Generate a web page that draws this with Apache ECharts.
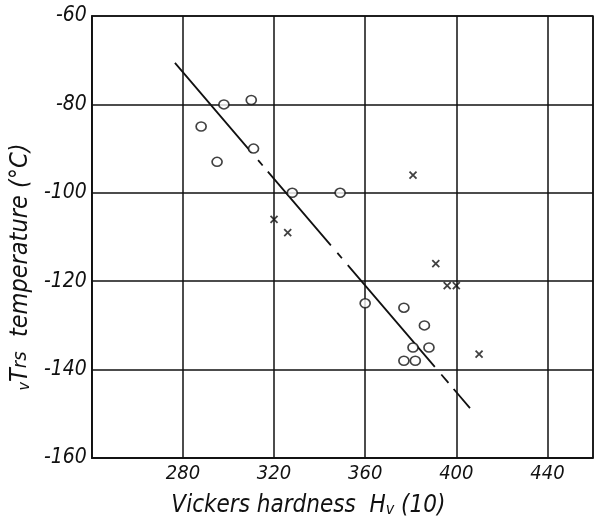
<!DOCTYPE html>
<html lang="en">
<head>
    <meta charset="UTF-8">
    <title>vTrs vs Vickers hardness</title>
    <style>
        html, body {
            margin: 0;
            padding: 0;
            background: #fff;
        }

        #chart1 {
            width: 599px;
            height: 523px;
        }
    </style>
</head>
<body>
<div id="chart1"></div>
<script src="https://cdn.jsdelivr.net/npm/echarts@6/dist/echarts.min.js"></script>
<script type="text/javascript">
    // 数据点 (Hv, vTrs)
    var circlePoints = [
        [288, -85], [295, -93], [298, -80], [310, -79], [311, -90],
        [328, -100], [349, -100], [360, -125], [377, -126], [386, -130],
        [381, -135], [388, -135], [377, -138], [382, -138]
    ];
    var crossPoints = [
        [320, -106], [326, -109], [381, -96], [391, -116],
        [396, -121], [400, -121], [410, -136.5]
    ];
    // 回归直线两端
    var fitLine = [[276.5, -70.6], [406, -148.7]];

    var xTicks = [280, 320, 360, 400, 440];
    var yTicks = [-60, -80, -100, -120, -140, -160];

    var font = "'Liberation Sans Narrow', 'DejaVu Sans Condensed', sans-serif";
    var ink = '#111';

    var chart1 = echarts.init(document.getElementById('chart1'));

    chart1.setOption({
        animation: false,
        backgroundColor: '#fff',
        grid: {
            left: 90,
            top: 16,
            right: 6,
            bottom: 63,
            show: true,
            borderColor: ink,
            borderWidth: 1.5
        },
        xAxis: {
            type: 'value',
            min: 240,
            max: 460,
            interval: 40,
            name: 'Vickers hardness  H{sub|v} (10)',
            nameLocation: 'middle',
            nameGap: 36,
            nameTextStyle: {
                color: ink,
                fontFamily: font,
                fontStyle: 'italic',
                fontSize: 24,
                padding: [0, 68, 0, 0],
                rich: {
                    sub: {
                        fontFamily: font,
                        fontStyle: 'italic',
                        fontSize: 16,
                        color: ink,
                        verticalAlign: 'bottom',
                        padding: [8, 0, 0, 0]
                    }
                }
            },
            axisLine: {lineStyle: {color: ink, width: 1.5}},
            axisTick: {show: false},
            axisLabel: {
                color: ink,
                fontFamily: font,
                fontStyle: 'italic',
                fontSize: 20,
                margin: 6,
                formatter: function (v) {
                    return xTicks.indexOf(v) >= 0 ? String(v) : '';
                }
            },
            splitLine: {show: true, lineStyle: {color: ink, width: 1.5}}
        },
        yAxis: {
            type: 'value',
            min: -160,
            max: -60,
            interval: 20,
            name: '{sub|v}T{small|rs}  temperature (°C)',
            nameLocation: 'middle',
            nameGap: 50,
            nameRotate: 90,
            nameTextStyle: {
                color: ink,
                fontFamily: font,
                fontStyle: 'italic',
                fontSize: 25,
                padding: [0, 60, 0, 0],
                rich: {
                    sub: {
                        fontFamily: font,
                        fontStyle: 'italic',
                        fontSize: 16,
                        color: ink,
                        verticalAlign: 'bottom'
                    },
                    small: {
                        fontFamily: font,
                        fontStyle: 'italic',
                        fontSize: 20,
                        color: ink
                    }
                }
            },
            axisLine: {lineStyle: {color: ink, width: 1.5}},
            axisTick: {show: false},
            axisLabel: {
                color: ink,
                fontFamily: font,
                fontStyle: 'italic',
                fontSize: 21,
                margin: 5,
                formatter: function (v) {
                    return yTicks.indexOf(v) >= 0 ? String(v) : '';
                }
            },
            splitLine: {show: true, lineStyle: {color: ink, width: 1.5}}
        },
        series: [{
            type: 'line',
            data: fitLine,
            symbol: 'none',
            lineStyle: {
                color: ink,
                width: 1.8,
                type: [118, 10, 7, 8, 97, 10, 7, 9, 134, 10, 11, 8, 40]
            },
            z: 2
        }, {
            type: 'scatter',
            data: circlePoints,
            symbol: 'circle',
            symbolSize: [10, 9],
            itemStyle: {color: '#fff', borderColor: ink, borderWidth: 1.6},
            z: 3
        }, {
            type: 'scatter',
            data: crossPoints,
            symbol: 'path://M0,0L10,10M10,0L0,10',
            symbolSize: 7,
            itemStyle: {color: 'none', borderColor: ink, borderWidth: 1.8},
            z: 3
        }]
    });
</script>
</body>
</html>
